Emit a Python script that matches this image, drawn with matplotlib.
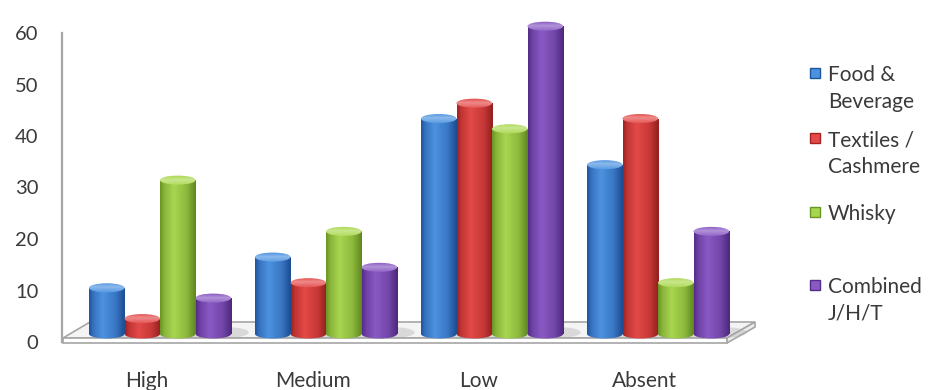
import numpy as np
import matplotlib
matplotlib.use("Agg")
import matplotlib.pyplot as plt
from matplotlib.colors import LinearSegmentedColormap, to_rgb
from matplotlib.patches import Ellipse, Polygon, Rectangle

plt.rcParams["font.family"] = ["Lato", "DejaVu Sans"]

# ---- data -------------------------------------------------------------
categories = ["High", "Medium", "Low", "Absent"]
series_names = ["Food &\nBeverage", "Textiles /\nCashmere", "Whisky", "Combined\nJ/H/T"]
food_beverage = [9, 15, 42, 33]
textiles_cashmere = [3, 10, 45, 42]
whisky = [30, 20, 40, 10]
combined_jht = [7, 13, 60, 20]
y_ticks = [0, 10, 20, 30, 40, 50, 60]

series_values = [food_beverage, textiles_cashmere, whisky, combined_jht]

# (dark edge, light highlight, top cap) for each series
palette = [
    ("#1f55a0", "#4d92e0", "#5c9ce4"),
    ("#a32222", "#e24a48", "#e65a58"),
    ("#6a9624", "#a8d650", "#b2dc5e"),
    ("#552c88", "#8a5ac4", "#9266c8"),
]

W, H = 929, 390
fig = plt.figure(figsize=(W / 100, H / 100), dpi=100)
fig.patch.set_facecolor("white")


def fx(px):
    return px / W


def fy(py):
    return 1 - py / H


# ---- floor slab (drawn in figure space, beneath the axes) -------------
edge = "#a6a6a6"
floor_top = [(63, 338), (727, 338), (755, 322), (90, 322)]
floor_front = [(63, 338), (727, 338), (727, 343), (63, 343)]
floor_side = [(727, 338), (755, 322), (755, 327), (727, 343)]
for poly, fc in [(floor_top, "#f4f4f4"), (floor_front, "#ffffff"), (floor_side, "#ececec")]:
    fig.patches.append(Polygon([(fx(a), fy(b)) for a, b in poly], closed=True,
                               transform=fig.transFigure, facecolor=fc,
                               edgecolor=edge, linewidth=1.2, zorder=-5))

# ---- front axes: value scale and category labels ----------------------
ax = fig.add_axes([fx(62), fy(342), fx(727) - fx(62), fy(33) - fy(342)])
ax.set_facecolor("none")
ax.set_ylim(0, 60)
ax.set_xlim(-0.512, 3.494)
ax.set_yticks(y_ticks)
ax.set_xticks(range(len(categories)))
ax.set_xticklabels(categories)
for s in ["top", "right", "bottom"]:
    ax.spines[s].set_visible(False)
ax.spines["left"].set_color(edge)
ax.spines["left"].set_linewidth(1.6)
ax.tick_params(axis="y", length=0, pad=17, labelsize=14.5, labelcolor="#3a3a3a")
ax.tick_params(axis="x", length=0, pad=21, labelsize=15, labelcolor="#3a3a3a")

# ---- bar axes: cylinders sit mid-depth on the floor -------------------
px_per_unit = 5.13
y_lo, y_hi = -2, 62
bx = fig.add_axes([fx(62), fy(334 + (0 - y_lo) * px_per_unit),
                   fx(755) - fx(62), (y_hi - y_lo) * px_per_unit / H])
bx.set_axis_off()
bx.set_facecolor("none")

n_series = len(series_values)
bar_w = 35.5 / 166
cap_h = 9 / px_per_unit
x_idx = np.arange(len(categories))


def cyl_cmap(dark, light):
    d, l = np.array(to_rgb(dark)), np.array(to_rgb(light))
    return LinearSegmentedColormap.from_list(
        "cyl", [(0.0, d), (0.12, 0.5 * (d + l)), (0.38, l), (0.75, 0.55 * l + 0.45 * d), (1.0, d * 0.9)])


grad = np.linspace(0, 1, 64)[None, :]

for g in range(len(categories)):
    for s in range(n_series):
        v = series_values[s][g]
        dark, light, capc = palette[s]
        cmap = cyl_cmap(dark, light)
        xc = x_idx[g] + (s - (n_series - 1) / 2) * bar_w
        z = 2 + g * 10 + s * 2
        bars = bx.bar(xc, v, width=bar_w, color=light, linewidth=0, zorder=z)
        rect = bars.patches[0]
        x0 = rect.get_x()
        # body shading
        im = bx.imshow(grad, extent=[x0, x0 + bar_w, 0, v], aspect="auto",
                       cmap=cmap, zorder=z + 0.1, interpolation="bilinear")
        im.set_clip_path(rect)
        # rounded base
        base = Ellipse((xc, 0), bar_w, cap_h, facecolor="none", edgecolor="none", zorder=z)
        bx.add_patch(base)
        im2 = bx.imshow(grad, extent=[x0, x0 + bar_w, -cap_h, 0.1], aspect="auto",
                        cmap=cmap, zorder=z - 0.05, interpolation="bilinear")
        im2.set_clip_path(base)
        # top cap
        cap = Ellipse((xc, v), bar_w, cap_h, facecolor=capc, edgecolor="none", zorder=z + 0.5)
        bx.add_patch(cap)
        cap_cmap = LinearSegmentedColormap.from_list(
            "cap", [(0, light), (0.4, "#ffffff"), (1, capc)])
        im3 = bx.imshow(np.linspace(0, 1, 32)[:, None], extent=[x0, x0 + bar_w, v - cap_h / 2, v + cap_h / 2],
                        aspect="auto", cmap=cap_cmap, alpha=0.3, zorder=z + 0.6,
                        interpolation="bilinear")
        im3.set_clip_path(cap)
        # soft shadow on the floor beside the base
        bx.add_patch(Ellipse((xc + bar_w * 0.35, 0.3), bar_w * 1.3, cap_h * 1.2,
                             facecolor="#a8a8a8", edgecolor="none", alpha=0.35, zorder=1))

bx.set_xlim(-0.5904, 3.584)
bx.set_ylim(y_lo, y_hi)

# ---- legend -----------------------------------------------------------
legend_rows = [(73, 27), (138, 27), (212, 27), (285, 27)]
for (name, (ytop, step), (dark, light, capc)) in zip(series_names, legend_rows, palette):
    sw = 10
    fig.patches.append(Rectangle((fx(810), fy(ytop + sw / 2)), sw / W, sw / H,
                                 transform=fig.transFigure, facecolor=light,
                                 edgecolor=dark, linewidth=1.0, zorder=3))
    for k, line in enumerate(name.split("\n")):
        fig.text(fx(828), fy(ytop + k * step), line, fontsize=15, color="#3a3a3a",
                 ha="left", va="center_baseline")

fig.savefig("out.png", dpi=100, facecolor="white")
